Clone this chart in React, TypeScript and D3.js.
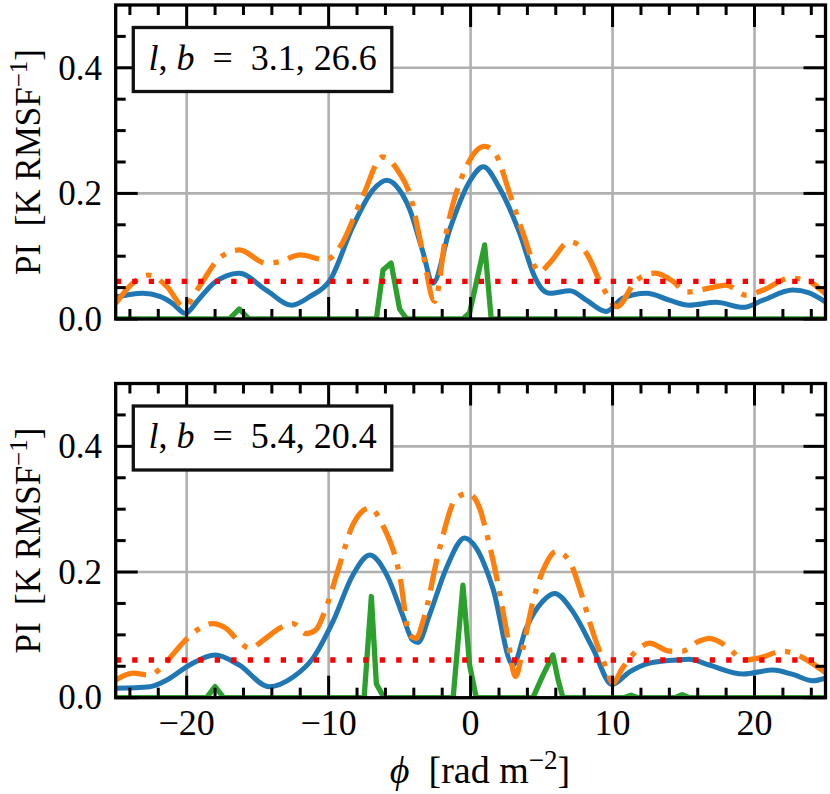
import React from 'react';
import * as d3 from 'd3';

// ---------- data ----------
const xMajorTicks = [-20, -10, 0, 10, 20];
const xTickLabels = ['−20', '−10', '0', '10', '20'];
const xMinorTicks = [-24, -22, -18, -16, -14, -12, -8, -6, -4, -2, 2, 4, 6, 8, 12, 14, 16, 18, 22, 24];
const yMajorTicks = [0, 0.2, 0.4];
const yTickLabels = ['0.0', '0.2', '0.4'];
const yMinorTicks = [0.05, 0.1, 0.15, 0.25, 0.3, 0.35, 0.45];
const threshold = 0.06;
const panelL = ['3.1', '5.4'];
const panelB = ['26.6', '20.4'];

const topBlue: [number, number][] = [
  [-25, 0.035], [-24, 0.039], [-23.1, 0.041], [-21.9, 0.036], [-21, 0.025], [-20.1, 0.009],
  [-19.2, 0.03], [-18.1, 0.057], [-16.3, 0.073], [-14.4, 0.046], [-12.6, 0.022], [-11.3, 0.036],
  [-9.9, 0.062], [-8.3, 0.147], [-6.9, 0.205], [-5.9, 0.221], [-5.0, 0.205], [-4.3, 0.175],
  [-3.4, 0.11], [-2.65, 0.057], [-1.48, 0.142], [-0.07, 0.219], [0.9, 0.2425], [2.0, 0.21],
  [3.45, 0.137], [4.5, 0.068], [5.1, 0.046], [5.6, 0.041], [7.0, 0.045], [8.15, 0.03],
  [9.55, 0.012], [10.7, 0.033], [12.4, 0.041], [14.0, 0.03], [15.4, 0.022], [17.3, 0.0266],
  [19.2, 0.0186], [20.6, 0.03], [22.7, 0.046], [23.8, 0.042], [25, 0.027],
];
const topOrange: [number, number][] = [
  [-25, 0.025], [-23.8, 0.057], [-22.7, 0.07], [-21.4, 0.052], [-20.2, 0.0196], [-19.1, 0.052],
  [-17.7, 0.097], [-16.3, 0.11], [-14.4, 0.089], [-13.5, 0.091], [-12.0, 0.102], [-10.2, 0.094],
  [-9.2, 0.115], [-7.6, 0.195], [-6.2, 0.258], [-5.0, 0.232], [-4.3, 0.2], [-3.36, 0.105],
  [-2.54, 0.028], [-1.72, 0.137], [-0.31, 0.242], [1.0, 0.275], [1.8, 0.261], [2.75, 0.2],
  [3.69, 0.137], [4.86, 0.075], [5.56, 0.089], [6.97, 0.123], [8.15, 0.105], [9.3, 0.051],
  [10.3, 0.0196], [11.7, 0.062], [13.0, 0.073], [14.25, 0.06], [15.2, 0.043], [16.8, 0.049],
  [18.0, 0.054], [19.4, 0.038], [20.6, 0.046], [22.5, 0.065], [23.6, 0.062], [25, 0.04],
];
const topGreen: [number, number][] = [
  [-25, 0], [-17.0, 0], [-16.3, 0.016], [-15.6, 0], [-6.64, 0], [-6.17, 0.078], [-5.6, 0.089],
  [-5.0, 0.016], [-4.5, 0], [-0.54, 0], [-0.07, 0.01], [0.99, 0.118], [1.45, 0], [25, 0],
];

const botBlue: [number, number][] = [
  [-25, 0.015], [-22.6, 0.0175], [-21.4, 0.028], [-19.8, 0.052], [-18.0, 0.068], [-16.3, 0.052],
  [-14.2, 0.0175], [-12.5, 0.033], [-11.1, 0.063], [-9.7, 0.121], [-8.3, 0.195], [-7.1, 0.227],
  [-5.9, 0.195], [-4.8, 0.132], [-4.1, 0.092], [-3.7, 0.088], [-2.89, 0.132], [-1.71, 0.206],
  [-0.42, 0.254], [0.4, 0.238], [1.57, 0.174], [2.98, 0.052], [3.92, 0.111], [5.1, 0.154],
  [5.92, 0.166], [7.2, 0.137], [8.6, 0.079], [9.97, 0.021], [11.2, 0.041], [12.6, 0.055],
  [14.5, 0.06], [15.4, 0.061], [16.8, 0.052], [19.2, 0.0377], [21.3, 0.044], [22.7, 0.037],
  [24.1, 0.027], [25, 0.031],
];
const botOrange: [number, number][] = [
  [-25, 0.028], [-23.8, 0.039], [-22.6, 0.036], [-21.4, 0.058], [-20.2, 0.089], [-19.1, 0.11],
  [-18.2, 0.118], [-17.2, 0.11], [-16.3, 0.089], [-15.6, 0.079], [-14.4, 0.095], [-13.5, 0.11],
  [-12.5, 0.118], [-11.6, 0.102], [-10.9, 0.108], [-10.2, 0.142], [-9.23, 0.211], [-8.3, 0.275],
  [-7.1, 0.302], [-6.2, 0.275], [-5.0, 0.195], [-4.3, 0.1], [-3.83, 0.0945], [-3.36, 0.121],
  [-2.18, 0.238], [-1.0, 0.318], [-0.19, 0.325], [0.63, 0.302], [1.1, 0.264], [1.8, 0.195],
  [2.5, 0.11], [3.17, 0.034], [3.69, 0.079], [4.39, 0.153], [5.33, 0.214], [6.03, 0.233],
  [6.97, 0.217], [7.68, 0.174], [8.6, 0.105], [9.55, 0.047], [10.0, 0.023], [10.7, 0.047],
  [11.9, 0.079], [12.6, 0.087], [14.0, 0.074], [14.9, 0.074], [16.1, 0.09], [16.8, 0.0945],
  [18.2, 0.079], [19.2, 0.06], [20.3, 0.063], [22.0, 0.074], [22.7, 0.071], [23.9, 0.057],
  [25, 0.04],
];
const botGreen: [number, number][] = [
  [-25, 0], [-18.6, 0], [-18.0, 0.0176], [-17.4, 0], [-7.5, 0], [-6.99, 0.161], [-6.64, 0.022],
  [-6.1, 0], [-1.23, 0], [-0.54, 0.179], [-0.07, 0.052], [0.4, 0], [4.39, 0], [5.1, 0.036],
  [5.8, 0.068], [6.15, 0.03], [6.5, 0], [10.8, 0], [11.3, 0.004], [11.8, 0], [14.4, 0],
  [14.9, 0.005], [15.4, 0], [25, 0],
];

// ---------- layout ----------
const W = 830;
const H = 794;
const X0 = 115.7;
const X1 = 825.5;
const PANELS = [
  { top: 5, bottom: 319 },
  { top: 383.5, bottom: 697.7 },
];
const FONT = "'Liberation Serif', 'DejaVu Serif', serif";
const C_BLUE = '#1f77b4';
const C_ORANGE = '#ff7f0e';
const C_GREEN = '#2ca02c';
const C_RED = '#ff0000';

const x = d3.scaleLinear().domain([-25, 25]).range([X0, X1]);

function Panel(props: {
  idx: number;
  blue: [number, number][];
  orange: [number, number][];
  green: [number, number][];
  showX: boolean;
}) {
  const { idx, blue, orange, green, showX } = props;
  const { top, bottom } = PANELS[idx];
  const y = d3.scaleLinear().domain([0, 0.5]).range([bottom, top]);
  const lineSmooth = d3
    .line<[number, number]>()
    .x((d) => x(d[0]))
    .y((d) => y(d[1]))
    .curve(d3.curveMonotoneX);
  const lineLin = d3
    .line<[number, number]>()
    .x((d) => x(d[0]))
    .y((d) => y(d[1]));
  const clipId = `clip${idx}`;
  const majLen = 22;
  const minLen = 10;
  const cy = (top + bottom) / 2;
  const boxX = X0 + 17.6;
  const boxY = top + 22.5;
  const boxW = 258.5;
  const boxH = 64;
  return (
    <g>
      <defs>
        <clipPath id={clipId}>
          <rect x={X0} y={top} width={X1 - X0} height={bottom - top} />
        </clipPath>
      </defs>
      {/* grid */}
      <g stroke="#b0b0b0" strokeWidth={2.6}>
        {xMajorTicks.map((t) => (
          <line key={'gx' + t} x1={x(t)} x2={x(t)} y1={top} y2={bottom} />
        ))}
        {yMajorTicks.map((t) => (
          <line key={'gy' + t} x1={X0} x2={X1} y1={y(t)} y2={y(t)} />
        ))}
      </g>
      {/* series */}
      <g clipPath={`url(#${clipId})`} fill="none">
        <path d={lineSmooth(blue) || ''} stroke={C_BLUE} strokeWidth={5} strokeLinejoin="round" />
        <path
          d={lineSmooth(orange) || ''}
          stroke={C_ORANGE}
          strokeWidth={5.3}
          strokeDasharray="32 10 5.3 10"
        />
        <path d={lineLin(green) || ''} stroke={C_GREEN} strokeWidth={5.3} strokeLinejoin="round" />
        <line
          x1={X0}
          x2={X1}
          y1={y(threshold)}
          y2={y(threshold)}
          stroke={C_RED}
          strokeWidth={5.3}
          strokeDasharray="5.3 11.2"
        />
      </g>
      {/* ticks */}
      <g stroke="#000" strokeWidth={3}>
        {xMajorTicks.map((t) => (
          <g key={'tx' + t}>
            <line x1={x(t)} x2={x(t)} y1={top} y2={top + majLen} />
            <line x1={x(t)} x2={x(t)} y1={bottom} y2={bottom - majLen} />
          </g>
        ))}
        {xMinorTicks.map((t) => (
          <g key={'mx' + t}>
            <line x1={x(t)} x2={x(t)} y1={top} y2={top + minLen} />
            <line x1={x(t)} x2={x(t)} y1={bottom} y2={bottom - minLen} />
          </g>
        ))}
        {yMajorTicks.map((t) => (
          <g key={'ty' + t}>
            <line x1={X0} x2={X0 + majLen} y1={y(t)} y2={y(t)} />
            <line x1={X1} x2={X1 - majLen} y1={y(t)} y2={y(t)} />
          </g>
        ))}
        {yMinorTicks.map((t) => (
          <g key={'my' + t}>
            <line x1={X0} x2={X0 + minLen} y1={y(t)} y2={y(t)} />
            <line x1={X1} x2={X1 - minLen} y1={y(t)} y2={y(t)} />
          </g>
        ))}
      </g>
      {/* frame */}
      <rect
        x={X0}
        y={top}
        width={X1 - X0}
        height={bottom - top}
        fill="none"
        stroke="#000"
        strokeWidth={3.3}
      />
      {/* annotation box */}
      <rect x={boxX} y={boxY} width={boxW} height={boxH} fill="#fff" stroke="#111" strokeWidth={3.3} />
      <text
        x={boxX + boxW / 2}
        y={boxY + 42}
        textAnchor="middle"
        fontFamily={FONT}
        fontSize={36}
        style={{ whiteSpace: 'pre' }}
      >
        <tspan fontStyle="italic">l</tspan>
        <tspan>{', '}</tspan>
        <tspan fontStyle="italic">b</tspan>
        <tspan>{`  =  ${panelL[idx]}, ${panelB[idx]}`}</tspan>
      </text>
      {/* y tick labels */}
      {yMajorTicks.map((t, i) => (
        <text
          key={'yl' + t}
          x={102}
          y={y(t) + 11.7}
          textAnchor="end"
          fontFamily={FONT}
          fontSize={35}
        >
          {yTickLabels[i]}
        </text>
      ))}
      {/* y axis label */}
      <text
        transform={`translate(40,${cy}) rotate(-90)`}
        textAnchor="middle"
        fontFamily={FONT}
        fontSize={35}
        style={{ whiteSpace: 'pre' }}
      >
        <tspan>{'PI  [K RMSF'}</tspan>
        <tspan dy={-13} fontSize={25}>
          −1
        </tspan>
        <tspan dy={13}>]</tspan>
      </text>
      {showX &&
        xMajorTicks.map((t, i) => (
          <text key={'xl' + t} x={x(t)} y={735} textAnchor="middle" fontFamily={FONT} fontSize={36}>
            {xTickLabels[i]}
          </text>
        ))}
    </g>
  );
}

export default function App() {
  return (
    <div style={{ position: 'absolute', left: 0, top: 0 }}>
      <svg width={W} height={H} viewBox={`0 0 ${W} ${H}`} style={{ display: 'block', background: '#fff' }}>
        <rect x={0} y={0} width={W} height={H} fill="#fff" />
        <Panel idx={0} blue={topBlue} orange={topOrange} green={topGreen} showX={false} />
        <Panel idx={1} blue={botBlue} orange={botOrange} green={botGreen} showX={true} />
        <text x={480} y={783} textAnchor="middle" fontFamily={FONT} fontSize={38} style={{ whiteSpace: 'pre' }}>
          <tspan fontStyle="italic">ϕ</tspan>
          <tspan>{'  [rad m'}</tspan>
          <tspan dy={-14} fontSize={27}>
            −2
          </tspan>
          <tspan dy={14}>]</tspan>
        </text>
      </svg>
    </div>
  );
}
